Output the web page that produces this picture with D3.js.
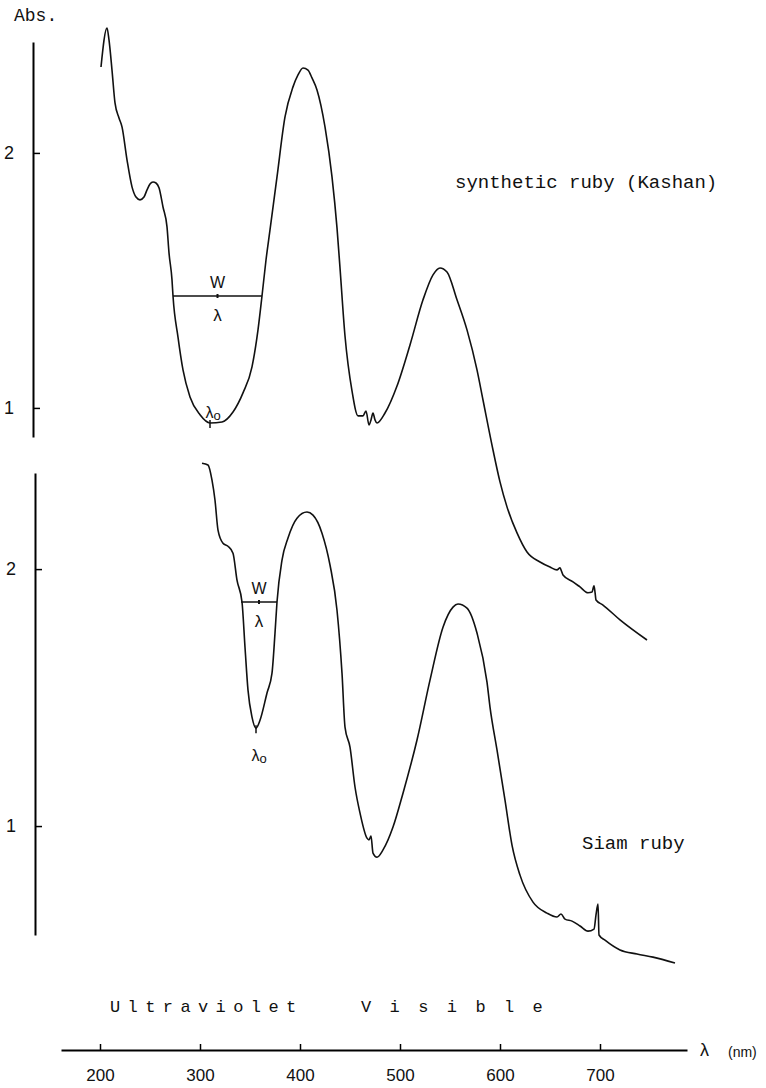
<!DOCTYPE html>
<meta charset="utf-8">
<script src="https://cdnjs.cloudflare.com/ajax/libs/d3/7.8.5/d3.min.js"></script>
<style>
  body { margin: 0; background: #fff; }
  text { fill: #111; }
</style>
<div id="chart"></div>
<script>

// synthetic ruby (Kashan) spectrum
var kashanNm = [201,207,209,212,215,219,222,227,232,236,240,244,247,250,253,256,259,263,267,269,272,273,278,283,290,300,310,322,333,343,352,358,362,366,370,377,385,393,398,403,408,412,417,425,432,437,440,445,452,458,463,466,469,471,473,475,477,485,497,510,523,533,540,547,557,567,577,583,593,600,607,617,627,640,650,657,660,661,663,673,680,688,692,694,695,696,703,720,747]
var kashanAbs = [2.337,2.490,2.443,2.325,2.196,2.137,2.102,1.973,1.867,1.827,1.816,1.827,1.855,1.878,1.886,1.882,1.863,1.788,1.710,1.608,1.502,1.439,1.278,1.149,1.043,0.973,0.941,0.945,0.984,1.059,1.161,1.306,1.439,1.580,1.698,1.906,2.141,2.259,2.306,2.333,2.325,2.294,2.247,2.102,1.906,1.706,1.549,1.282,1.067,0.969,0.969,0.988,0.933,0.953,0.980,0.953,0.941,0.980,1.086,1.247,1.424,1.522,1.549,1.533,1.424,1.306,1.149,1.031,0.835,0.710,0.612,0.510,0.435,0.396,0.376,0.365,0.373,0.365,0.345,0.318,0.298,0.275,0.278,0.302,0.278,0.247,0.227,0.169,0.090]

// Siam ruby spectrum
var siamNm = [302,308,312,315,318,323,328,333,337,342,345,348,352,356,360,367,372,375,377,382,388,397,407,413,422,430,437,442,445,450,455,460,467,469,471,473,477,483,493,503,517,530,543,553,558,567,577,587,590,597,605,612,620,633,647,657,661,665,672,680,688,694,696,698,699,705,720,737,753,775]
var siamAbs = [2.412,2.405,2.346,2.268,2.152,2.101,2.089,2.062,1.957,1.872,1.696,1.529,1.424,1.381,1.412,1.518,1.595,1.751,1.872,2.035,2.121,2.198,2.222,2.210,2.140,2.016,1.840,1.595,1.385,1.307,1.152,1.051,0.953,0.946,0.961,0.895,0.879,0.907,0.996,1.128,1.335,1.568,1.774,1.852,1.864,1.848,1.751,1.560,1.463,1.296,1.101,0.926,0.809,0.704,0.661,0.646,0.658,0.638,0.630,0.611,0.591,0.599,0.654,0.696,0.576,0.556,0.518,0.502,0.490,0.467]

// half-width markers: [left nm, right nm, abs level, minimum nm, minimum abs]
var kashanWidth = [273, 362, 1.439, 310, 0.941]
var siamWidth = [341, 377, 1.872, 356, 1.381]

var xTicks = [200, 300, 400, 500, 600, 700]
var absTicks = [1, 2]

var width = 766, height = 1088

var svg = d3.select("#chart").append("svg")
  .attr("width", width)
  .attr("height", height)
  .style("background", "#fff")

var x = d3.scaleLinear().domain([161, 787]).range([61, 687])
var yTop = d3.scaleLinear().domain([0.886, 2.435]).range([437, 42])
var yBot = d3.scaleLinear().domain([0.576, 2.374]).range([935, 473])

var mono = "'Liberation Mono', 'DejaVu Sans Mono', monospace"
var sans = "'Liberation Sans', Arial, sans-serif"

// x axis
var xAxis = svg.append("g")
  .attr("transform", "translate(0,1050)")
  .call(d3.axisBottom(x).tickValues(xTicks).tickSizeInner(-6).tickSizeOuter(0).tickPadding(19).tickFormat(d3.format("d")))
xAxis.select(".domain").attr("stroke-width", 2)
xAxis.selectAll(".tick line").attr("stroke-width", 1.5)
xAxis.selectAll("text").style("font-family", sans).style("font-size", "17px").attr("fill", "#111")

svg.append("text").attr("x", 700).attr("y", 1056).text("λ")
  .style("font-family", sans).style("font-size", "18px")
svg.append("text").attr("x", 728).attr("y", 1057).text("(nm)")
  .style("font-family", sans).style("font-size", "14px")

// y axes
function absAxis(scale, xpos) {
  var g = svg.append("g")
    .attr("transform", "translate(" + xpos + ",0)")
    .call(d3.axisLeft(scale).tickValues(absTicks).tickSizeInner(-7).tickSizeOuter(0).tickPadding(19).tickFormat(d3.format("d")))
  g.select(".domain").attr("stroke-width", 2)
  g.selectAll(".tick line").attr("stroke-width", 1.5)
  g.selectAll("text").style("font-family", sans).style("font-size", "18px").attr("fill", "#111")
}
absAxis(yTop, 33)
absAxis(yBot, 35)

svg.append("text").attr("x", 14).attr("y", 21).text("Abs.")
  .style("font-family", mono).style("font-size", "18px")

// spectra
function spectrum(nm, abs, scale) {
  var line = d3.line()
    .x(function(d, i) { return x(nm[i]) })
    .y(function(d, i) { return scale(abs[i]) })
    .curve(d3.curveMonotoneX)
  svg.append("path")
    .datum(nm)
    .attr("d", line)
    .attr("fill", "none")
    .attr("stroke", "#111")
    .attr("stroke-width", 1.6)
}
spectrum(kashanNm, kashanAbs, yTop)
spectrum(siamNm, siamAbs, yBot)

// W / lambda markers
function widthMark(w, scale, loLabelDy) {
  var yl = scale(w[2]), xm = x((w[0] + w[1]) / 2)
  svg.append("line").attr("x1", x(w[0])).attr("x2", x(w[1])).attr("y1", yl).attr("y2", yl)
    .attr("stroke", "#111").attr("stroke-width", 1.5)
  svg.append("line").attr("x1", xm).attr("x2", xm).attr("y1", yl - 2).attr("y2", yl + 2)
    .attr("stroke", "#111").attr("stroke-width", 2)
  svg.append("text").attr("x", xm).attr("y", yl - 8).attr("text-anchor", "middle").text("W")
    .style("font-family", sans).style("font-size", "16px")
  svg.append("text").attr("x", xm).attr("y", yl + 25).attr("text-anchor", "middle").text("λ")
    .style("font-family", sans).style("font-size", "17px")
  var xo = x(w[3]), yo = scale(w[4])
  svg.append("line").attr("x1", xo).attr("x2", xo).attr("y1", yo - 3).attr("y2", yo + 5)
    .attr("stroke", "#111").attr("stroke-width", 1.5)
  var t = svg.append("text").attr("x", xo + 3).attr("y", yo + loLabelDy).attr("text-anchor", "middle")
    .style("font-family", sans).style("font-size", "16px")
  t.append("tspan").text("λ")
  t.append("tspan").attr("dy", 2).style("font-size", "13px").text("o")
}
widthMark(kashanWidth, yTop, -5)
widthMark(siamWidth, yBot, 33)

// labels
svg.append("text").attr("x", 455).attr("y", 188).text("synthetic ruby (Kashan)")
  .style("font-family", mono).style("font-size", "19px")
svg.append("text").attr("x", 582).attr("y", 849).text("Siam ruby")
  .style("font-family", mono).style("font-size", "19px")
svg.append("text").attr("x", 110).attr("y", 1012).text("Ultraviolet")
  .style("font-family", mono).style("font-size", "17px").style("letter-spacing", "7.4px")
svg.append("text").attr("x", 361).attr("y", 1012).text("Visible")
  .style("font-family", mono).style("font-size", "17px").style("letter-spacing", "18.4px")

</script>
